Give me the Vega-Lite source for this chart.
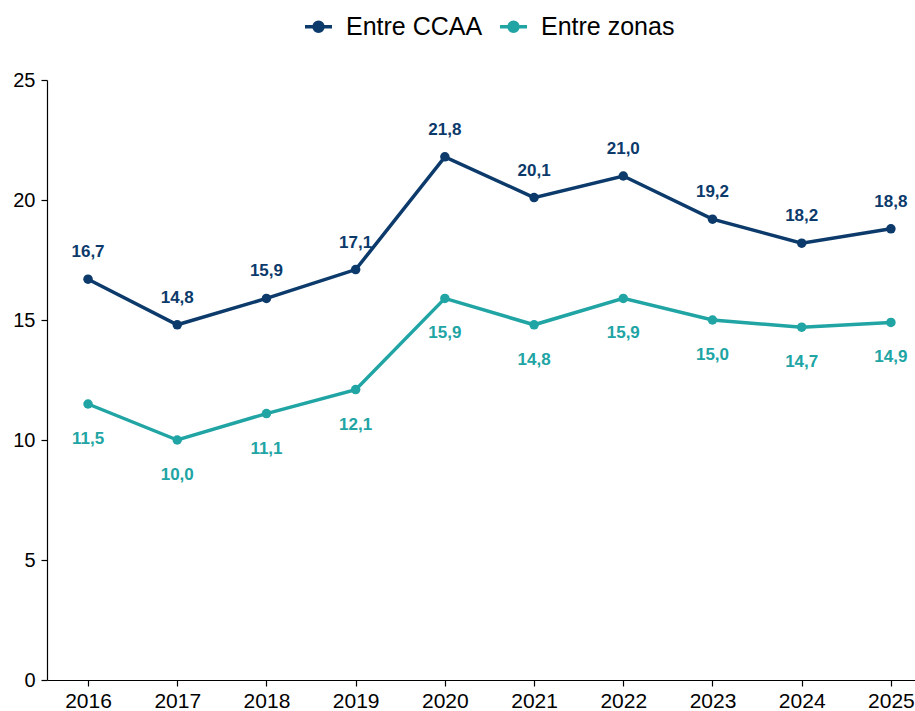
{
  "$schema": "https://vega.github.io/schema/vega-lite/v6.json",
  "width": 868,
  "height": 600,
  "autosize": {"type": "none"},
  "padding": {"left": 47, "top": 80, "right": 0, "bottom": 31},
  "config": {
    "view": {"stroke": null},
    "font": "Liberation Sans",
    "locale": {"number": {"decimal": ",", "thousands": ".", "grouping": [3], "currency": ["", " €"]}},
    "axis": {"grid": false, "domainColor": "#000", "tickColor": "#000", "labelColor": "#000", "labelFont": "Liberation Sans", "labelFontSize": 19, "tickSize": 6, "title": null, "domainWidth": 1.2, "tickWidth": 1.2}
  },
  "data": {"values": [
    {"year": 2016, "serie": "Entre CCAA", "value": 16.7},
    {"year": 2017, "serie": "Entre CCAA", "value": 14.8},
    {"year": 2018, "serie": "Entre CCAA", "value": 15.9},
    {"year": 2019, "serie": "Entre CCAA", "value": 17.1},
    {"year": 2020, "serie": "Entre CCAA", "value": 21.8},
    {"year": 2021, "serie": "Entre CCAA", "value": 20.1},
    {"year": 2022, "serie": "Entre CCAA", "value": 21.0},
    {"year": 2023, "serie": "Entre CCAA", "value": 19.2},
    {"year": 2024, "serie": "Entre CCAA", "value": 18.2},
    {"year": 2025, "serie": "Entre CCAA", "value": 18.8},
    {"year": 2016, "serie": "Entre zonas", "value": 11.5},
    {"year": 2017, "serie": "Entre zonas", "value": 10.0},
    {"year": 2018, "serie": "Entre zonas", "value": 11.1},
    {"year": 2019, "serie": "Entre zonas", "value": 12.1},
    {"year": 2020, "serie": "Entre zonas", "value": 15.9},
    {"year": 2021, "serie": "Entre zonas", "value": 14.8},
    {"year": 2022, "serie": "Entre zonas", "value": 15.9},
    {"year": 2023, "serie": "Entre zonas", "value": 15.0},
    {"year": 2024, "serie": "Entre zonas", "value": 14.7},
    {"year": 2025, "serie": "Entre zonas", "value": 14.9}
  ]},
  "encoding": {
    "x": {"field": "year", "type": "quantitative", "scale": {"domain": [2015.54, 2025.27], "nice": false, "zero": false},
          "axis": {"values": [2016, 2017, 2018, 2019, 2020, 2021, 2022, 2023, 2024, 2025], "format": "d", "labelPadding": 4, "labelFontSize": 21}},
    "y": {"field": "value", "type": "quantitative", "scale": {"domain": [0, 25], "nice": false},
          "axis": {"values": [0, 5, 10, 15, 20, 25], "labelPadding": 6, "labelFontSize": 20}},
    "color": {"field": "serie", "type": "nominal",
              "scale": {"domain": ["Entre CCAA", "Entre zonas"], "range": ["#0b3a6b", "#20a4a4"]}}
  },
  "layer": [
    {
      "mark": {"type": "line", "strokeWidth": 3.5},
      "encoding": {
        "color": {"field": "serie", "type": "nominal",
                  "scale": {"domain": ["Entre CCAA", "Entre zonas"], "range": ["#0b3a6b", "#20a4a4"]},
                  "legend": {"orient": "none", "legendX": 256, "legendY": -69, "direction": "horizontal", "title": null,
                             "labelFontSize": 25, "labelFont": "Liberation Sans", "labelColor": "#000",
                             "symbolType": "M-1,0H1M-0.33,0A0.33,0.33,0,1,1,0.33,0A0.33,0.33,0,1,1,-0.33,0",
                             "symbolSize": 729, "symbolStrokeWidth": 3.5, "labelOffset": 12, "columnPadding": 10, "padding": 0}}
      }
    },
    {
      "mark": {"type": "point", "filled": true, "size": 90, "opacity": 1},
      "encoding": {"color": {"field": "serie", "type": "nominal", "legend": null}}
    },
    {
      "transform": [{"filter": "datum.serie === 'Entre CCAA'"}],
      "mark": {"type": "text", "dy": -27, "fontWeight": "bold", "fontSize": 17, "font": "Liberation Sans"},
      "encoding": {"text": {"field": "value", "type": "quantitative", "format": ".1f"}, "color": {"field": "serie", "type": "nominal", "legend": null}}
    },
    {
      "transform": [{"filter": "datum.serie === 'Entre zonas'"}],
      "mark": {"type": "text", "dy": 35, "fontWeight": "bold", "fontSize": 17, "font": "Liberation Sans"},
      "encoding": {"text": {"field": "value", "type": "quantitative", "format": ".1f"}, "color": {"field": "serie", "type": "nominal", "legend": null}}
    }
  ]
}
